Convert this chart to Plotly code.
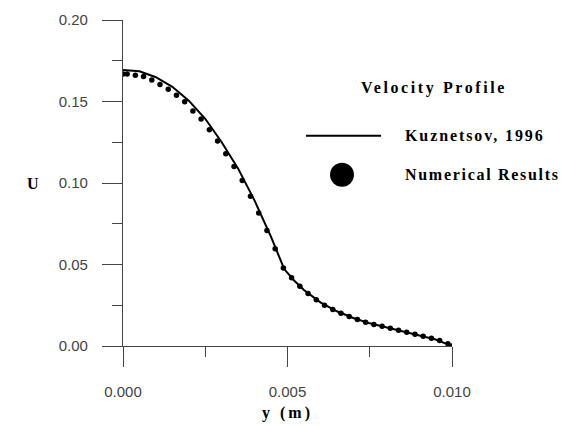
import plotly.graph_objects as go

# Numerical results (dots)
num_y = [0.0, 0.000125, 0.000375, 0.000625, 0.000875, 0.001125, 0.001375, 0.001625,
         0.001875, 0.002125, 0.002375, 0.002625, 0.002875, 0.003125, 0.003375, 0.003625,
         0.003875, 0.004125, 0.004375, 0.004625, 0.004875, 0.005125, 0.005375, 0.005625,
         0.005875, 0.006125, 0.006375, 0.006625, 0.006875, 0.007125, 0.007375, 0.007625,
         0.007875, 0.008125, 0.008375, 0.008625, 0.008875, 0.009125, 0.009375, 0.009625,
         0.009875, 0.010]
num_u = [0.1669, 0.1669, 0.1661, 0.1653, 0.1632, 0.1604, 0.1575, 0.1539,
         0.1498, 0.1441, 0.1392, 0.1326, 0.1257, 0.1179, 0.1101, 0.1015,
         0.0918, 0.0816, 0.0709, 0.0597, 0.0479, 0.0418, 0.0366, 0.0322,
         0.0283, 0.0250, 0.0224, 0.0201, 0.0181, 0.0162, 0.0146, 0.0132,
         0.0121, 0.0109, 0.0097, 0.0085, 0.0072, 0.0060, 0.0047, 0.0033,
         0.0014, 0.0]

# Kuznetsov, 1996 (solid line)
kuz_y = [0.0, 0.0005, 0.0010, 0.0015, 0.0020, 0.0025, 0.0030, 0.0035, 0.0040,
         0.0045, 0.0049, 0.0052, 0.0055, 0.0060, 0.0065, 0.0070, 0.0075, 0.0080,
         0.0085, 0.0090, 0.0095, 0.0100]
kuz_u = [0.1694, 0.1685, 0.1649, 0.1590, 0.1505, 0.1394, 0.1250, 0.1088, 0.0892,
         0.0670, 0.0472, 0.0402, 0.0344, 0.0268, 0.0213, 0.0172, 0.0139, 0.0114,
         0.0090, 0.0066, 0.0040, 0.0000]

x_ticks = [0.0, 0.005, 0.010]
x_labels = ["0.000", "0.005", "0.010"]
y_ticks = [0.0, 0.05, 0.10, 0.15, 0.20]
y_labels = ["0.00", "0.05", "0.10", "0.15", "0.20"]

legend_title = "Velocity Profile"
line_name = "Kuznetsov, 1996"
dot_name = "Numerical Results"

W, H = 561, 426
L, R, T, B = 123, 109, 20, 79.5
pw, ph = W - L - R, H - T - B

def px(x):
    return (x - L) / pw

def py(y):
    return (H - B - y) / ph

def spaced(s, sp):
    return '<span style="letter-spacing:%spx">%s</span>' % (sp, s)

tick_font = dict(family="Liberation Sans, Arial, sans-serif", size=15, color="#444444")
serif_bold = dict(family="Liberation Serif, Times New Roman, serif", size=16,
                  color="black", weight="bold")

fig = go.Figure()
fig.add_trace(go.Scatter(x=kuz_y, y=kuz_u, mode="lines", name=line_name,
                         line=dict(color="black", width=2), showlegend=False))
fig.add_trace(go.Scatter(x=num_y, y=num_u, mode="markers", name=dot_name,
                         marker=dict(color="black", size=5.5), showlegend=False))

axis_common = dict(showgrid=False, zeroline=False, showline=True, linecolor="#444",
                   linewidth=1.3, ticks="outside", tickcolor="#444", tickwidth=1.3,
                   ticklen=20, tickfont=tick_font)

fig.update_xaxes(range=[0, 0.010], tickvals=x_ticks, ticktext=x_labels,
                 ticklabelstandoff=12,
                 minor=dict(ticks="outside", tickvals=[0.0025, 0.0075], ticklen=10,
                            tickcolor="#444", tickwidth=1.3),
                 **axis_common)
fig.update_yaxes(range=[0, 0.20], tickvals=y_ticks, ticktext=y_labels,
                 ticklabelstandoff=11,
                 minor=dict(ticks="outside", tickvals=[0.025, 0.075, 0.125, 0.175], ticklen=10,
                            tickcolor="#444", tickwidth=1.3),
                 **axis_common)

annotations = [
    dict(text="U", x=px(33), y=py(184), xref="paper", yref="paper", showarrow=False,
         xanchor="center", yanchor="middle", font=serif_bold),
    dict(text=spaced("y (m)", 3), x=px(287), y=py(414), xref="paper", yref="paper",
         showarrow=False, xanchor="center", yanchor="middle", font=serif_bold),
    dict(text=spaced(legend_title, 2.6), x=px(434), y=py(88), xref="paper", yref="paper",
         showarrow=False, xanchor="center", yanchor="middle", font=serif_bold),
    dict(text=spaced(line_name, 1.9), x=px(403), y=py(136), xref="paper", yref="paper",
         showarrow=False, xanchor="left", yanchor="middle", font=serif_bold),
    dict(text=spaced(dot_name, 1.7), x=px(403), y=py(175), xref="paper", yref="paper",
         showarrow=False, xanchor="left", yanchor="middle", font=serif_bold),
]

shapes = [
    dict(type="line", xref="paper", yref="paper", x0=px(306), x1=px(381),
         y0=py(136), y1=py(136), line=dict(color="black", width=2)),
    dict(type="circle", xref="paper", yref="paper", xsizemode="pixel", ysizemode="pixel",
         xanchor=px(342), yanchor=py(175), x0=-12, x1=12, y0=-12, y1=12,
         fillcolor="black", line=dict(color="black", width=0)),
]

fig.update_layout(width=W, height=H, margin=dict(l=L, r=R, t=T, b=B),
                  paper_bgcolor="white", plot_bgcolor="white",
                  annotations=annotations, shapes=shapes, showlegend=False)

fig.write_html("out.html")
